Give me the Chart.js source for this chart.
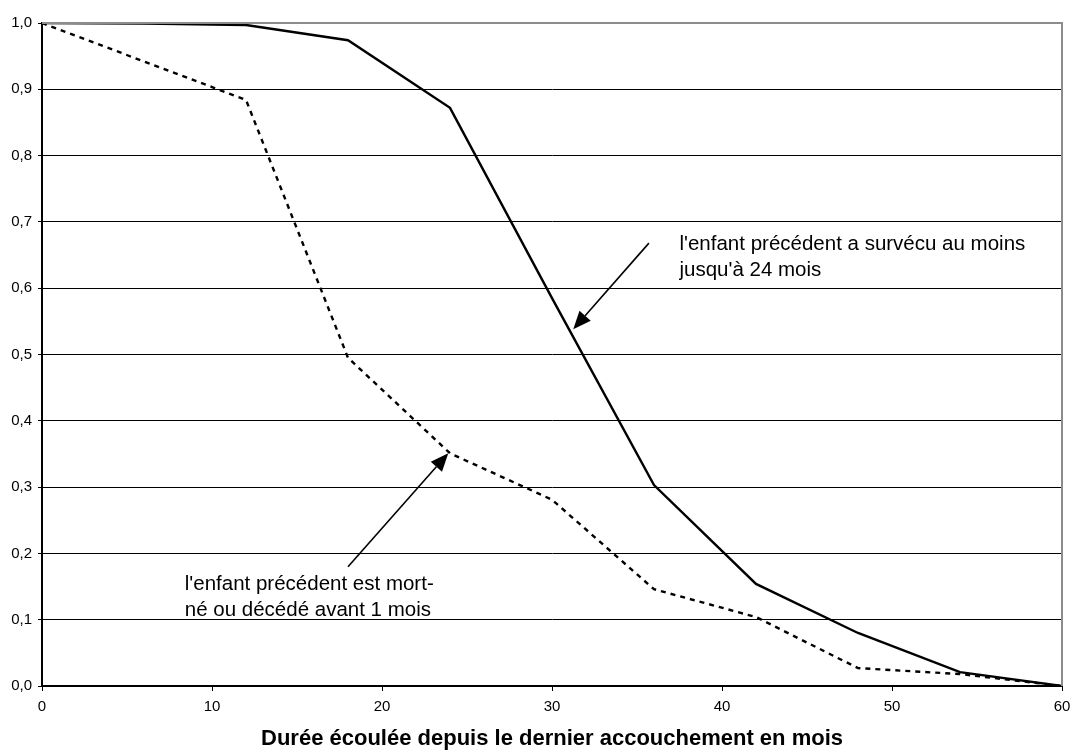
<!DOCTYPE html>
<html>
<head>
<meta charset="utf-8">
<script src="https://cdn.jsdelivr.net/npm/chart.js@4/dist/chart.umd.min.js"></script>
<style>
  html, body { margin: 0; padding: 0; background: #fff; }
  #wrap { width: 1073px; height: 752px; }
</style>
</head>
<body>
<div id="wrap"><canvas id="survieGraph" width="1073" height="752"></canvas></div>
<script>
// durée en mois depuis le dernier accouchement
const months = [0, 6, 12, 18, 24, 30, 36, 42, 48, 54, 60];
// proportion sans nouvelle naissance
const survecu = [1.0, 0.999, 0.997, 0.974, 0.872, 0.585, 0.303, 0.154, 0.080, 0.021, 0.0];
const mortNe = [1.0, 0.942, 0.884, 0.495, 0.351, 0.281, 0.146, 0.104, 0.027, 0.018, 0.0];
const yTicks = [0, 0.1, 0.2, 0.3, 0.4, 0.5, 0.6, 0.7, 0.8, 0.9, 1.0];
const xTicks = [0, 10, 20, 30, 40, 50, 60];

const family = '"Liberation Sans", Arial, sans-serif';
const labelFont = '20.5px ' + family;

// textes et flèches, positions en unités des axes (ty = ligne de base)
const notes = [
  { lines: ["l'enfant précédent a survécu au moins", "jusqu'à 24 mois"], tx: 37.5, ty: 0.658,
    from: [35.7, 0.668], to: [31.25, 0.538] },
  { lines: ["l'enfant précédent est mort-", "né ou décédé avant 1 mois"], tx: 8.4, ty: 0.145,
    from: [18.0, 0.180], to: [23.9, 0.351] }
];

function pairs(ys) {
  return months.map((m, i) => ({ x: m, y: ys[i] }));
}

function arrow(ctx, x1, y1, x2, y2) {
  const ang = Math.atan2(y2 - y1, x2 - x1);
  const len = 18, half = 7.5;
  const bx = x2 - len * Math.cos(ang), by = y2 - len * Math.sin(ang);
  ctx.beginPath();
  ctx.moveTo(x1, y1);
  ctx.lineTo(bx, by);
  ctx.stroke();
  ctx.beginPath();
  ctx.moveTo(x2, y2);
  ctx.lineTo(bx + half * Math.sin(ang), by - half * Math.cos(ang));
  ctx.lineTo(bx - half * Math.sin(ang), by + half * Math.cos(ang));
  ctx.closePath();
  ctx.fill();
}

const cadre = {
  id: 'cadre',
  afterDraw(chart) {
    const { ctx, chartArea: a, scales } = chart;
    ctx.save();
    // bord haut et droit gris
    ctx.strokeStyle = '#8c8c8c';
    ctx.lineWidth = 2;
    ctx.beginPath();
    ctx.moveTo(a.left, a.top);
    ctx.lineTo(a.right, a.top);
    ctx.lineTo(a.right, a.bottom);
    ctx.stroke();

    ctx.fillStyle = '#000';
    ctx.strokeStyle = '#000';
    ctx.lineWidth = 1.6;
    ctx.font = labelFont;
    ctx.textBaseline = 'alphabetic';
    ctx.textAlign = 'left';
    notes.forEach(n => {
      const x = scales.x.getPixelForValue(n.tx);
      const y = scales.y.getPixelForValue(n.ty);
      n.lines.forEach((t, i) => ctx.fillText(t, x, y + i * 26));
      arrow(ctx,
        scales.x.getPixelForValue(n.from[0]), scales.y.getPixelForValue(n.from[1]),
        scales.x.getPixelForValue(n.to[0]), scales.y.getPixelForValue(n.to[1]));
    });
    ctx.restore();
  }
};

const config = {
  type: 'line',
  data: {
    datasets: [
      {
        label: "l'enfant précédent a survécu au moins jusqu'à 24 mois",
        data: pairs(survecu),
        borderColor: '#000',
        borderWidth: 2.4,
        pointRadius: 0,
        tension: 0
      },
      {
        label: "l'enfant précédent est mort-né ou décédé avant 1 mois",
        data: pairs(mortNe),
        borderColor: '#000',
        borderWidth: 2.4,
        borderDash: [5, 5],
        pointRadius: 0,
        tension: 0
      }
    ]
  },
  options: {
    responsive: false,
    animation: false,
    layout: { padding: { top: 23, right: 11, left: 0, bottom: 0 } },
    plugins: {
      legend: { display: false },
      tooltip: { enabled: false }
    },
    scales: {
      x: {
        type: 'linear',
        min: 0,
        max: 60,
        afterBuildTicks: s => { s.ticks = xTicks.map(v => ({ value: v })); },
        afterFit: s => { s.height = 66; s.paddingLeft = 0; s.paddingRight = 0; },
        ticks: {
          color: '#000',
          font: { family: family, size: 15 },
          padding: 7,
          maxRotation: 0
        },
        grid: { drawOnChartArea: false, drawTicks: true, tickLength: 5, color: '#000' },
        border: { color: '#000', width: 2 },
        title: {
          display: true,
          text: 'Durée écoulée depuis le dernier accouchement en mois',
          color: '#000',
          font: { family: family, size: 22, weight: 'bold' },
          padding: { top: 10, bottom: 0 }
        }
      },
      y: {
        min: 0,
        max: 1,
        afterBuildTicks: s => { s.ticks = yTicks.map(v => ({ value: v })); },
        afterFit: s => { s.width = 42; s.paddingTop = 0; s.paddingBottom = 0; },
        ticks: {
          color: '#000',
          font: { family: family, size: 15 },
          padding: 6,
          callback: v => v.toFixed(1).replace('.', ',')
        },
        grid: { color: '#000', lineWidth: 1, tickLength: 4 },
        border: { color: '#000', width: 2 }
      }
    }
  },
  plugins: [cadre]
};

new Chart(document.getElementById('survieGraph').getContext('2d'), config);
</script>
</body>
</html>
